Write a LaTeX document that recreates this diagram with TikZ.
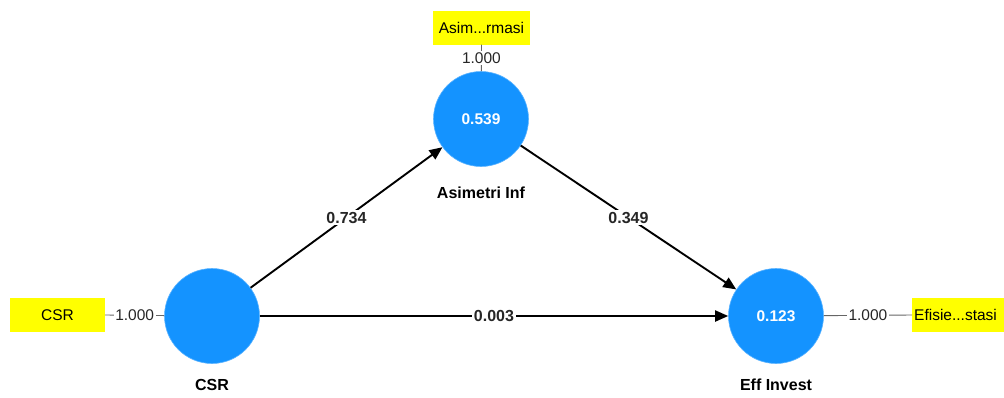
\documentclass[tikz,border=0pt]{standalone}
\usepackage{fontspec}
\setmainfont{Liberation Sans}
\usetikzlibrary{arrows.meta}
\definecolor{latent}{HTML}{1493FF}
\definecolor{indic}{HTML}{FFFF00}
\definecolor{loadline}{HTML}{666666}
\begin{document}
\begin{tikzpicture}[x=1pt,y=-1pt,
  latentvar/.style={circle,fill=latent,draw=latent!70!white,line width=0.6pt,minimum size=95pt,inner sep=0pt,
    text=white,font=\fontsize{15.5}{17}\selectfont\bfseries},
  indicator/.style={fill=indic,inner sep=0pt,minimum height=34pt,font=\fontsize{15.5}{17}\selectfont},
  caption/.style={font=\fontsize{16}{18}\selectfont\bfseries},
  loading/.style={draw=loadline,line width=0.9pt},
  loadlabel/.style={fill=white,inner sep=1.5pt,font=\fontsize{15.5}{17}\selectfont,text=black!85},
  path/.style={draw=black,line width=1.9pt,-{Triangle[length=13pt,width=11pt]}},
  pathlabel/.style={fill=white,inner sep=2pt,font=\fontsize{16}{18}\selectfont\bfseries,text=black!85}]
\useasboundingbox (0,0) rectangle (1004,397);

% latent variables
\node[latentvar] (csr) at (212,316) {};
\node[latentvar] (asim) at (481,119) {0.539};
\node[latentvar] (eff) at (776,316) {0.123};

% captions
\node[caption] (csrcap) at (212,385) {CSR};
\node[caption] (asimcap) at (481,193) {Asimetri Inf};
\node[caption] (effcap) at (776,385) {Eff Invest};

% indicators
\node[indicator,minimum width=95pt] (csrind) at (57.5,315) {CSR};
\node[indicator,minimum width=97pt] (asimind) at (481.5,27.5) {Asim...rmasi};
\node[indicator,minimum width=95pt,anchor=west,align=left,text width=91pt,inner xsep=2pt] (effind) at (912,315) {Efisie...stasi};

% outer loadings
\draw[loading] (csrind.east) -- node[loadlabel] {1.000} (csr);
\draw[loading] (asimind.south) -- node[loadlabel,pos=0.5] {1.000} (asim);
\draw[loading] (eff) -- node[loadlabel] {1.000} (effind.west);

% structural paths
\draw[path] (csr) -- node[pathlabel,pos=0.5] {0.734} (asim);
\draw[path] (asim) -- node[pathlabel,pos=0.5] {0.349} (eff);
\draw[path] (csr) -- node[pathlabel,pos=0.5] {0.003} (eff);
\end{tikzpicture}
\end{document}
